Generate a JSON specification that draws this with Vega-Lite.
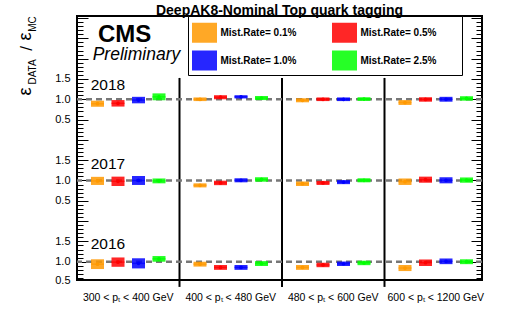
{
  "$schema": "https://vega.github.io/schema/vega-lite/v6.json",
  "width": 405,
  "height": 264,
  "autosize": "none",
  "padding": {"left": 77, "top": 16, "right": 26, "bottom": 43},
  "background": "white",
  "title": {"text": "DeepAK8-Nominal Top quark tagging", "font": "Liberation Sans", "fontSize": 14, "fontWeight": "bold", "color": "black", "anchor": "middle", "offset": 2, "dy": 4},
  "config": {
    "view": {"stroke": "black", "strokeWidth": 2},
    "axis": {"grid": false},
    "axisX": {"domain": false, "ticks": false, "tickSize": 0, "labelPadding": 12, "labelFont": "Liberation Sans", "labelFontSize": 10.5, "labelColor": "black", "labelAngle": 0, "labelLimit": 200, "labelFlush": false, "labelOverlap": false},
    "legend": {"labelFont": "Liberation Sans", "labelFontSize": 10, "labelFontWeight": "bold", "labelColor": "black"}
  },
  "data": {"values": [
    {"year": 2016, "pt": "300 < pₜ < 400 GeV", "rate": "0.1%", "ratio": 0.94, "lo": 0.82, "hi": 1.06},
    {"year": 2016, "pt": "300 < pₜ < 400 GeV", "rate": "0.5%", "ratio": 0.99, "lo": 0.875, "hi": 1.105},
    {"year": 2016, "pt": "300 < pₜ < 400 GeV", "rate": "1.0%", "ratio": 0.96, "lo": 0.835, "hi": 1.085},
    {"year": 2016, "pt": "300 < pₜ < 400 GeV", "rate": "2.5%", "ratio": 1.07, "lo": 1.0, "hi": 1.14},
    {"year": 2016, "pt": "400 < pₜ < 480 GeV", "rate": "0.1%", "ratio": 0.94, "lo": 0.88, "hi": 1.0},
    {"year": 2016, "pt": "400 < pₜ < 480 GeV", "rate": "0.5%", "ratio": 0.86, "lo": 0.8, "hi": 0.92},
    {"year": 2016, "pt": "400 < pₜ < 480 GeV", "rate": "1.0%", "ratio": 0.86, "lo": 0.8, "hi": 0.92},
    {"year": 2016, "pt": "400 < pₜ < 480 GeV", "rate": "2.5%", "ratio": 0.955, "lo": 0.895, "hi": 1.015},
    {"year": 2016, "pt": "480 < pₜ < 600 GeV", "rate": "0.1%", "ratio": 0.86, "lo": 0.8, "hi": 0.92},
    {"year": 2016, "pt": "480 < pₜ < 600 GeV", "rate": "0.5%", "ratio": 0.92, "lo": 0.865, "hi": 0.975},
    {"year": 2016, "pt": "480 < pₜ < 600 GeV", "rate": "1.0%", "ratio": 0.95, "lo": 0.895, "hi": 1.005},
    {"year": 2016, "pt": "480 < pₜ < 600 GeV", "rate": "2.5%", "ratio": 0.97, "lo": 0.915, "hi": 1.025},
    {"year": 2016, "pt": "600 < pₜ < 1200 GeV", "rate": "0.1%", "ratio": 0.845, "lo": 0.77, "hi": 0.92},
    {"year": 2016, "pt": "600 < pₜ < 1200 GeV", "rate": "0.5%", "ratio": 0.975, "lo": 0.895, "hi": 1.055},
    {"year": 2016, "pt": "600 < pₜ < 1200 GeV", "rate": "1.0%", "ratio": 1.01, "lo": 0.94, "hi": 1.08},
    {"year": 2016, "pt": "600 < pₜ < 1200 GeV", "rate": "2.5%", "ratio": 1.0, "lo": 0.94, "hi": 1.06},
    {"year": 2017, "pt": "300 < pₜ < 400 GeV", "rate": "0.1%", "ratio": 0.99, "lo": 0.89, "hi": 1.09},
    {"year": 2017, "pt": "300 < pₜ < 400 GeV", "rate": "0.5%", "ratio": 0.98, "lo": 0.865, "hi": 1.095},
    {"year": 2017, "pt": "300 < pₜ < 400 GeV", "rate": "1.0%", "ratio": 1.0, "lo": 0.89, "hi": 1.11},
    {"year": 2017, "pt": "300 < pₜ < 400 GeV", "rate": "2.5%", "ratio": 0.99, "lo": 0.93, "hi": 1.05},
    {"year": 2017, "pt": "400 < pₜ < 480 GeV", "rate": "0.1%", "ratio": 0.88, "lo": 0.83, "hi": 0.93},
    {"year": 2017, "pt": "400 < pₜ < 480 GeV", "rate": "0.5%", "ratio": 0.94, "lo": 0.885, "hi": 0.995},
    {"year": 2017, "pt": "400 < pₜ < 480 GeV", "rate": "1.0%", "ratio": 1.005, "lo": 0.955, "hi": 1.055},
    {"year": 2017, "pt": "400 < pₜ < 480 GeV", "rate": "2.5%", "ratio": 1.025, "lo": 0.97, "hi": 1.08},
    {"year": 2017, "pt": "480 < pₜ < 600 GeV", "rate": "0.1%", "ratio": 0.92, "lo": 0.865, "hi": 0.975},
    {"year": 2017, "pt": "480 < pₜ < 600 GeV", "rate": "0.5%", "ratio": 0.94, "lo": 0.89, "hi": 0.99},
    {"year": 2017, "pt": "480 < pₜ < 600 GeV", "rate": "1.0%", "ratio": 0.96, "lo": 0.91, "hi": 1.01},
    {"year": 2017, "pt": "480 < pₜ < 600 GeV", "rate": "2.5%", "ratio": 1.005, "lo": 0.955, "hi": 1.055},
    {"year": 2017, "pt": "600 < pₜ < 1200 GeV", "rate": "0.1%", "ratio": 0.97, "lo": 0.89, "hi": 1.05},
    {"year": 2017, "pt": "600 < pₜ < 1200 GeV", "rate": "0.5%", "ratio": 1.02, "lo": 0.945, "hi": 1.095},
    {"year": 2017, "pt": "600 < pₜ < 1200 GeV", "rate": "1.0%", "ratio": 1.005, "lo": 0.93, "hi": 1.08},
    {"year": 2017, "pt": "600 < pₜ < 1200 GeV", "rate": "2.5%", "ratio": 1.01, "lo": 0.945, "hi": 1.075},
    {"year": 2018, "pt": "300 < pₜ < 400 GeV", "rate": "0.1%", "ratio": 0.89, "lo": 0.815, "hi": 0.965},
    {"year": 2018, "pt": "300 < pₜ < 400 GeV", "rate": "0.5%", "ratio": 0.9, "lo": 0.82, "hi": 0.98},
    {"year": 2018, "pt": "300 < pₜ < 400 GeV", "rate": "1.0%", "ratio": 0.98, "lo": 0.9, "hi": 1.06},
    {"year": 2018, "pt": "300 < pₜ < 400 GeV", "rate": "2.5%", "ratio": 1.06, "lo": 0.975, "hi": 1.145},
    {"year": 2018, "pt": "400 < pₜ < 480 GeV", "rate": "0.1%", "ratio": 1.0, "lo": 0.955, "hi": 1.045},
    {"year": 2018, "pt": "400 < pₜ < 480 GeV", "rate": "0.5%", "ratio": 1.05, "lo": 1.0, "hi": 1.1},
    {"year": 2018, "pt": "400 < pₜ < 480 GeV", "rate": "1.0%", "ratio": 1.06, "lo": 1.02, "hi": 1.1},
    {"year": 2018, "pt": "400 < pₜ < 480 GeV", "rate": "2.5%", "ratio": 1.03, "lo": 0.98, "hi": 1.08},
    {"year": 2018, "pt": "480 < pₜ < 600 GeV", "rate": "0.1%", "ratio": 0.975, "lo": 0.925, "hi": 1.025},
    {"year": 2018, "pt": "480 < pₜ < 600 GeV", "rate": "0.5%", "ratio": 1.0, "lo": 0.955, "hi": 1.045},
    {"year": 2018, "pt": "480 < pₜ < 600 GeV", "rate": "1.0%", "ratio": 1.0, "lo": 0.955, "hi": 1.045},
    {"year": 2018, "pt": "480 < pₜ < 600 GeV", "rate": "2.5%", "ratio": 1.005, "lo": 0.96, "hi": 1.05},
    {"year": 2018, "pt": "600 < pₜ < 1200 GeV", "rate": "0.1%", "ratio": 0.92, "lo": 0.86, "hi": 0.98},
    {"year": 2018, "pt": "600 < pₜ < 1200 GeV", "rate": "0.5%", "ratio": 0.995, "lo": 0.94, "hi": 1.05},
    {"year": 2018, "pt": "600 < pₜ < 1200 GeV", "rate": "1.0%", "ratio": 1.0, "lo": 0.94, "hi": 1.06},
    {"year": 2018, "pt": "600 < pₜ < 1200 GeV", "rate": "2.5%", "ratio": 1.02, "lo": 0.965, "hi": 1.075}
  ]},
  "resolve": {"scale": {"y": "independent"}, "axis": {"y": "independent"}},
  "layer": [
    {
      "data": {"values": [{"b": "400 < pₜ < 480 GeV"}, {"b": "480 < pₜ < 600 GeV"}, {"b": "600 < pₜ < 1200 GeV"}]},
      "mark": {"type": "rule", "color": "black", "strokeWidth": 2},
      "encoding": {
        "x": {"field": "b", "type": "nominal", "bandPosition": 0, "scale": {"domain": ["300 < pₜ < 400 GeV", "400 < pₜ < 480 GeV", "480 < pₜ < 600 GeV", "600 < pₜ < 1200 GeV"], "range": [0, 410], "paddingInner": 0, "paddingOuter": 0}, "axis": {"title": null}},
        "y": {"datum": 0.38, "type": "quantitative", "scale": {"domain": [0.55, 7.05], "nice": false, "zero": false},
          "axis": {"orient": "left", "values": [0.6,0.7,0.8,0.9,1.0,1.1,1.2,1.3,1.4,1.5,1.6,1.7,1.8,1.9,2.0,2.1,2.2,2.3,2.4,2.5,2.6,2.7,2.8,2.9,3.0,3.1,3.2,3.3,3.4,3.5,3.6,3.7,3.8,3.9,4.0,4.1,4.2,4.3,4.4,4.5,4.6,4.7,4.8,4.9,5.0,5.1,5.2,5.3,5.4,5.5,5.6,5.7,5.8,5.9,6.0,6.1,6.2,6.3,6.4,6.5,6.6,6.7,6.8,6.9,7.0], "labels": false, "domain": false, "ticks": true, "tickSize": 6, "offset": -6, "tickColor": "black", "tickWidth": 1,
            "title": "ε", "titleFont": "Liberation Sans", "titleFontSize": 18, "titleFontWeight": "normal", "titleColor": "black", "titleAngle": 270, "titleAlign": "center", "titleBaseline": "alphabetic", "titleX": -53, "titleY": 20}},
        "y2": {"datum": 5.525}
      }
    },
    {
      "data": {"values": [{"k": 1}]},
      "mark": {"type": "rule", "color": "#777777", "strokeWidth": 2.5, "strokeDash": [6, 4]},
      "encoding": {
        "y": {"datum": 1, "type": "quantitative", "scale": {"domain": [0.55, 7.05], "nice": false, "zero": false},
          "axis": {"orient": "left", "values": [0.55, 1.0, 1.5], "labelExpr": "datum.value < 0.6 ? '0.5' : format(datum.value, '.1f')", "ticks": false, "domain": false, "labelPadding": 7, "labelFont": "Liberation Sans", "labelFontSize": 11, "labelColor": "black", "labelFlush": false, "labelOverlap": false,
            "title": "ε", "titleFont": "Liberation Sans", "titleFontSize": 18, "titleFontWeight": "normal", "titleColor": "black", "titleAngle": 270, "titleAlign": "center", "titleBaseline": "alphabetic", "titleX": -47, "titleY": 75}}
      }
    },
    {
      "data": {"values": [{"k": 1}]},
      "mark": {"type": "rule", "color": "#777777", "strokeWidth": 2.5, "strokeDash": [6, 4]},
      "encoding": {
        "y": {"datum": 1, "type": "quantitative", "scale": {"domain": [-1.45, 5.05], "nice": false, "zero": false},
          "axis": {"orient": "left", "values": [0.5, 1.0, 1.5], "format": ".1f", "ticks": false, "domain": false, "labelPadding": 7, "labelFont": "Liberation Sans", "labelFontSize": 11, "labelColor": "black", "labelFlush": false, "labelOverlap": false,
            "title": "DATA", "titleFont": "Liberation Sans", "titleFontSize": 10, "titleFontWeight": "normal", "titleColor": "black", "titleAngle": 270, "titleAlign": "center", "titleBaseline": "alphabetic", "titleX": -42, "titleY": 55.5}}
      }
    },
    {
      "data": {"values": [{"k": 1}]},
      "mark": {"type": "rule", "color": "#777777", "strokeWidth": 2.5, "strokeDash": [6, 4]},
      "encoding": {
        "y": {"datum": 1, "type": "quantitative", "scale": {"domain": [-3.45, 3.05], "nice": false, "zero": false},
          "axis": {"orient": "left", "values": [0.5, 1.0, 1.5], "format": ".1f", "ticks": false, "domain": false, "labelPadding": 7, "labelFont": "Liberation Sans", "labelFontSize": 11, "labelColor": "black", "labelFlush": false, "labelOverlap": false,
            "title": "/", "titleFont": "Liberation Sans", "titleFontSize": 17, "titleFontWeight": "normal", "titleColor": "black", "titleAngle": 270, "titleAlign": "center", "titleBaseline": "alphabetic", "titleX": -46, "titleY": 32}}
      }
    },
    {
      "transform": [{"filter": "datum.year == 2016"}],
      "mark": {"type": "bar", "width": 13, "opacity": 0.85},
      "encoding": {
        "x": {"field": "pt", "type": "nominal", "scale": {"domain": ["300 < pₜ < 400 GeV", "400 < pₜ < 480 GeV", "480 < pₜ < 600 GeV", "600 < pₜ < 1200 GeV"], "range": [0, 410], "paddingInner": 0, "paddingOuter": 0}, "axis": {"title": null}},
        "xOffset": {"field": "rate", "type": "nominal", "scale": {"domain": ["0.1%", "0.5%", "1.0%", "2.5%"], "paddingInner": 0, "paddingOuter": 0.5}},
        "y": {"field": "lo", "type": "quantitative", "scale": {"domain": [0.55, 7.05], "nice": false, "zero": false}, "axis": null},
        "y2": {"field": "hi"},
        "color": {"field": "rate", "type": "nominal", "scale": {"domain": ["0.1%", "0.5%", "1.0%", "2.5%"], "range": ["#ff9900", "#ff0000", "#0000ff", "#00ff00"]},
          "legend": {"title": " ", "titleOrient": "right", "titlePadding": 22, "titleFontSize": 10, "orient": "none", "direction": "horizontal", "legendX": 111, "legendY": 0, "columns": 2, "symbolType": "M-1,-0.8L1,-0.8L1,0.8L-1,0.8Z", "symbolSize": 625, "symbolStrokeWidth": 0, "symbolOpacity": 0.85, "labelOffset": 3.5, "labelExpr": "'Mist.Rate= ' + datum.label", "labelLimit": 300, "columnPadding": 35, "rowPadding": 5, "padding": 4, "strokeColor": "black", "fillColor": "white", "labelBaseline": "middle"}}
      }
    },
    {
      "transform": [{"filter": "datum.year == 2017"}],
      "mark": {"type": "bar", "width": 13, "opacity": 0.85},
      "encoding": {
        "x": {"field": "pt", "type": "nominal"},
        "xOffset": {"field": "rate", "type": "nominal"},
        "y": {"field": "lo", "type": "quantitative", "scale": {"domain": [-1.45, 5.05], "nice": false, "zero": false}, "axis": null},
        "y2": {"field": "hi"},
        "color": {"field": "rate", "type": "nominal", "legend": null}
      }
    },
    {
      "transform": [{"filter": "datum.year == 2018"}],
      "mark": {"type": "bar", "width": 13, "opacity": 0.85},
      "encoding": {
        "x": {"field": "pt", "type": "nominal"},
        "xOffset": {"field": "rate", "type": "nominal"},
        "y": {"field": "lo", "type": "quantitative", "scale": {"domain": [-3.45, 3.05], "nice": false, "zero": false}, "axis": null},
        "y2": {"field": "hi"},
        "color": {"field": "rate", "type": "nominal", "legend": null}
      }
    },
    {
      "transform": [{"filter": "datum.year == 2016"}],
      "mark": {"type": "tick", "size": 13, "thickness": 1.5},
      "encoding": {
        "x": {"field": "pt", "type": "nominal"},
        "xOffset": {"field": "rate", "type": "nominal"},
        "y": {"field": "ratio", "type": "quantitative", "scale": {"domain": [0.55, 7.05], "nice": false, "zero": false}, "axis": null},
        "color": {"field": "rate", "type": "nominal", "legend": null}
      }
    },
    {
      "transform": [{"filter": "datum.year == 2017"}],
      "mark": {"type": "tick", "size": 13, "thickness": 1.5},
      "encoding": {
        "x": {"field": "pt", "type": "nominal"},
        "xOffset": {"field": "rate", "type": "nominal"},
        "y": {"field": "ratio", "type": "quantitative", "scale": {"domain": [-1.45, 5.05], "nice": false, "zero": false}, "axis": null},
        "color": {"field": "rate", "type": "nominal", "legend": null}
      }
    },
    {
      "transform": [{"filter": "datum.year == 2018"}],
      "mark": {"type": "tick", "size": 13, "thickness": 1.5},
      "encoding": {
        "x": {"field": "pt", "type": "nominal"},
        "xOffset": {"field": "rate", "type": "nominal"},
        "y": {"field": "ratio", "type": "quantitative", "scale": {"domain": [-3.45, 3.05], "nice": false, "zero": false}, "axis": null},
        "color": {"field": "rate", "type": "nominal", "legend": null}
      }
    },
    {
      "transform": [{"filter": "datum.year == 2016"}],
      "mark": {"type": "point", "filled": true, "size": 14, "opacity": 1},
      "encoding": {
        "x": {"field": "pt", "type": "nominal"},
        "xOffset": {"field": "rate", "type": "nominal"},
        "y": {"field": "ratio", "type": "quantitative", "scale": {"domain": [0.55, 7.05], "nice": false, "zero": false}, "axis": null},
        "color": {"field": "rate", "type": "nominal", "legend": null}
      }
    },
    {
      "transform": [{"filter": "datum.year == 2017"}],
      "mark": {"type": "point", "filled": true, "size": 14, "opacity": 1},
      "encoding": {
        "x": {"field": "pt", "type": "nominal"},
        "xOffset": {"field": "rate", "type": "nominal"},
        "y": {"field": "ratio", "type": "quantitative", "scale": {"domain": [-1.45, 5.05], "nice": false, "zero": false}, "axis": null},
        "color": {"field": "rate", "type": "nominal", "legend": null}
      }
    },
    {
      "transform": [{"filter": "datum.year == 2018"}],
      "mark": {"type": "point", "filled": true, "size": 14, "opacity": 1},
      "encoding": {
        "x": {"field": "pt", "type": "nominal"},
        "xOffset": {"field": "rate", "type": "nominal"},
        "y": {"field": "ratio", "type": "quantitative", "scale": {"domain": [-3.45, 3.05], "nice": false, "zero": false}, "axis": null},
        "color": {"field": "rate", "type": "nominal", "legend": null}
      }
    },
    {
      "data": {"values": [{"t": "2017"}]},
      "mark": {"type": "text", "font": "Liberation Sans", "fontSize": 15.5, "color": "black", "align": "left", "baseline": "alphabetic", "dx": 13.7},
      "encoding": {
        "x": {"datum": "300 < pₜ < 400 GeV", "type": "nominal", "bandPosition": 0},
        "y": {"datum": 1.28, "type": "quantitative", "scale": {"domain": [-1.45, 5.05], "nice": false, "zero": false}, "axis": null},
        "text": {"field": "t"}
      }
    },
    {
      "data": {"values": [{"t": "2018"}]},
      "mark": {"type": "text", "font": "Liberation Sans", "fontSize": 15.5, "color": "black", "align": "left", "baseline": "alphabetic", "dx": 13.7},
      "encoding": {
        "x": {"datum": "300 < pₜ < 400 GeV", "type": "nominal", "bandPosition": 0},
        "y": {"datum": 1.23, "type": "quantitative", "scale": {"domain": [-3.45, 3.05], "nice": false, "zero": false}, "axis": null},
        "text": {"field": "t"}
      }
    },
    {
      "data": {"values": [{"t": "CMS"}]},
      "mark": {"type": "text", "font": "Liberation Sans", "fontSize": 24, "fontWeight": "bold", "color": "black", "align": "left", "baseline": "alphabetic", "dx": 21},
      "encoding": {
        "x": {"datum": "300 < pₜ < 400 GeV", "type": "nominal", "bandPosition": 0},
        "y": {"datum": 6.41, "type": "quantitative", "scale": {"domain": [0.55, 7.05], "nice": false, "zero": false},
          "axis": {"orient": "left", "values": [1.0,1.5,2.0,2.5,3.0,3.5,4.0,4.5,5.0,5.5,6.0,6.5,7.0], "labels": false, "domain": false, "ticks": true, "tickSize": 11, "offset": -11, "tickColor": "black", "tickWidth": 1,
            "title": "MC", "titleFont": "Liberation Sans", "titleFontSize": 10, "titleFontWeight": "normal", "titleColor": "black", "titleAngle": 270, "titleAlign": "center", "titleBaseline": "alphabetic", "titleX": -53, "titleY": 7.5}},
        "text": {"field": "t"}
      }
    },
    {
      "data": {"values": [{"t": "Preliminary"}]},
      "mark": {"type": "text", "font": "Liberation Sans", "fontSize": 17.5, "fontStyle": "italic", "color": "black", "align": "left", "baseline": "alphabetic", "dx": 15.7},
      "encoding": {
        "x": {"datum": "300 < pₜ < 400 GeV", "type": "nominal", "bandPosition": 0},
        "y": {"datum": 5.96, "type": "quantitative", "scale": {"domain": [0.55, 7.05], "nice": false, "zero": false},
          "axis": {"orient": "right", "values": [1.0,1.5,2.0,2.5,3.0,3.5,4.0,4.5,5.0,5.5,6.0,6.5,7.0], "labels": false, "domain": false, "ticks": true, "tickSize": 11, "offset": -11, "tickColor": "black", "tickWidth": 1, "title": null}},
        "text": {"field": "t"}
      }
    },
    {
      "data": {"values": [{"t": "2016"}]},
      "mark": {"type": "text", "font": "Liberation Sans", "fontSize": 15.5, "color": "black", "align": "left", "baseline": "alphabetic", "dx": 13.7},
      "encoding": {
        "x": {"datum": "300 < pₜ < 400 GeV", "type": "nominal", "bandPosition": 0},
        "y": {"datum": 1.31, "type": "quantitative", "scale": {"domain": [0.55, 7.05], "nice": false, "zero": false},
          "axis": {"orient": "right", "values": [0.6,0.7,0.8,0.9,1.0,1.1,1.2,1.3,1.4,1.5,1.6,1.7,1.8,1.9,2.0,2.1,2.2,2.3,2.4,2.5,2.6,2.7,2.8,2.9,3.0,3.1,3.2,3.3,3.4,3.5,3.6,3.7,3.8,3.9,4.0,4.1,4.2,4.3,4.4,4.5,4.6,4.7,4.8,4.9,5.0,5.1,5.2,5.3,5.4,5.5,5.6,5.7,5.8,5.9,6.0,6.1,6.2,6.3,6.4,6.5,6.6,6.7,6.8,6.9,7.0], "labels": false, "domain": false, "ticks": true, "tickSize": 6, "offset": -6, "tickColor": "black", "tickWidth": 1, "title": null}},
        "text": {"field": "t"}
      }
    }
  ]
}
